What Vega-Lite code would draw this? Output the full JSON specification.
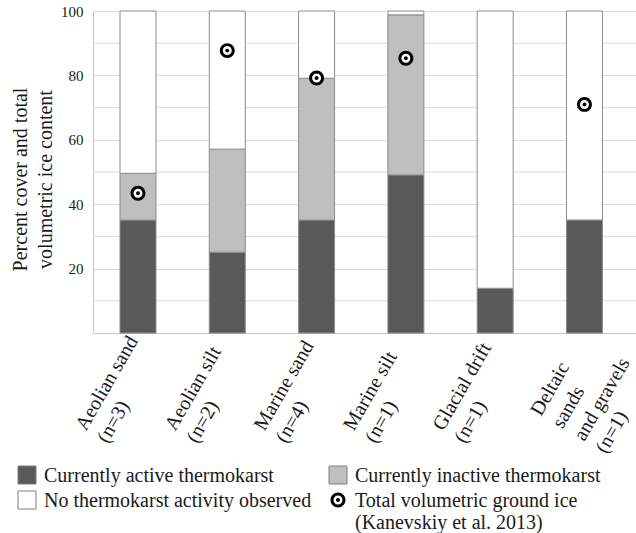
{
  "$schema": "https://vega.github.io/schema/vega-lite/v6.json",
  "width": 543,
  "height": 322,
  "autosize": {"type": "none"},
  "padding": {"left": 93, "top": 11, "right": 0, "bottom": 200},
  "background": "white",
  "config": {
    "view": {"stroke": null},
    "font": "Liberation Serif",
    "axis": {"labelFont": "Liberation Serif", "titleFont": "Liberation Serif"},
    "legend": {"labelFont": "Liberation Serif", "titleFont": "Liberation Serif"}
  },
  "datasets": {
    "cover": [
      {"material": "Aeolian sand|(n=3)", "cover": "Currently active thermokarst", "ord": 1, "value": 35.1},
      {"material": "Aeolian sand|(n=3)", "cover": "Currently inactive thermokarst", "ord": 2, "value": 14.5},
      {"material": "Aeolian sand|(n=3)", "cover": "No thermokarst activity observed", "ord": 3, "value": 50.4},
      {"material": "Aeolian silt|(n=2)", "cover": "Currently active thermokarst", "ord": 1, "value": 25.1},
      {"material": "Aeolian silt|(n=2)", "cover": "Currently inactive thermokarst", "ord": 2, "value": 32.0},
      {"material": "Aeolian silt|(n=2)", "cover": "No thermokarst activity observed", "ord": 3, "value": 42.9},
      {"material": "Marine sand|(n=4)", "cover": "Currently active thermokarst", "ord": 1, "value": 35.1},
      {"material": "Marine sand|(n=4)", "cover": "Currently inactive thermokarst", "ord": 2, "value": 44.0},
      {"material": "Marine sand|(n=4)", "cover": "No thermokarst activity observed", "ord": 3, "value": 20.9},
      {"material": "Marine silt|(n=1)", "cover": "Currently active thermokarst", "ord": 1, "value": 49.1},
      {"material": "Marine silt|(n=1)", "cover": "Currently inactive thermokarst", "ord": 2, "value": 49.7},
      {"material": "Marine silt|(n=1)", "cover": "No thermokarst activity observed", "ord": 3, "value": 1.2},
      {"material": "Glacial drift|(n=1)", "cover": "Currently active thermokarst", "ord": 1, "value": 13.9},
      {"material": "Glacial drift|(n=1)", "cover": "No thermokarst activity observed", "ord": 3, "value": 86.1},
      {"material": "Deltaic|sands|and gravels|(n=1)", "cover": "Currently active thermokarst", "ord": 1, "value": 35.1},
      {"material": "Deltaic|sands|and gravels|(n=1)", "cover": "No thermokarst activity observed", "ord": 3, "value": 64.9}
    ],
    "ice": [
      {"material": "Aeolian sand|(n=3)", "value": 43.4},
      {"material": "Aeolian silt|(n=2)", "value": 87.7},
      {"material": "Marine sand|(n=4)", "value": 79.2},
      {"material": "Marine silt|(n=1)", "value": 85.3},
      {"material": "Deltaic|sands|and gravels|(n=1)", "value": 71.0}
    ],
    "minorgrid": [
      {"value": 10}, {"value": 30}, {"value": 50}, {"value": 70}, {"value": 90}
    ]
  },
  "layer": [
    {
      "data": {"name": "minorgrid"},
      "mark": {"type": "rule", "color": "#dcdcdc", "strokeWidth": 1},
      "encoding": {
        "y": {
          "field": "value",
          "type": "quantitative",
          "scale": {"domain": [0, 100], "nice": false},
          "axis": {
            "title": ["Percent cover and total", "volumetric ice content"],
            "titleFont": "Liberation Serif",
            "titleFontSize": 20,
            "titleFontWeight": "normal",
            "titleColor": "#1a1a1a",
            "titleLineHeight": 25,
            "titleAngle": 270,
            "titleBaseline": "alphabetic",
            "titleAlign": "center",
            "titleX": -67,
            "titleY": 168,
            "values": [20, 40, 60, 80, 100],
            "labelFont": "Liberation Serif",
            "labelFontSize": 15,
            "labelColor": "#1a1a1a",
            "labelPadding": 10,
            "labelOverlap": false,
            "labelFlush": false,
            "ticks": false,
            "domainColor": "#c4c4c4",
            "gridColor": "#dcdcdc",
            "gridWidth": 1
          }
        }
      }
    },
    {
      "data": {"name": "cover"},
      "mark": {"type": "bar", "stroke": "#8c8c8c", "strokeWidth": 1},
      "encoding": {
        "x": {
          "field": "material",
          "type": "nominal",
          "sort": null,
          "scale": {"paddingInner": 0.597, "paddingOuter": 0.339, "align": 0.446},
          "axis": {
            "title": null,
            "labelAngle": -60,
            "labelAlign": "left",
            "labelBaseline": "alphabetic",
            "labelFont": "Liberation Serif",
            "labelFontSize": 20,
            "labelLineHeight": 25,
            "labelColor": "#1a1a1a",
            "labelPadding": 0,
            "labelOverlap": false,
            "labelBound": false,
            "labelFlush": false,
            "labelLimit": 0,
            "labelExpr": "split(datum.label, '|')",
            "ticks": false,
            "grid": false,
            "domainColor": "#c4c4c4",
            "encoding": {
              "labels": {
                "dx": {"value": {"expr": "indexof(datum.value, 'Deltaic') == 0 ? -94 : -111"}},
                "dy": {"value": 4}
              }
            }
          }
        },
        "y": {
          "field": "value",
          "type": "quantitative",
          "stack": "zero",
          "scale": {"domain": [0, 100], "nice": false},
          "axis": {
            "title": ["Percent cover and total", "volumetric ice content"],
            "titleFont": "Liberation Serif",
            "titleFontSize": 20,
            "titleFontWeight": "normal",
            "titleColor": "#1a1a1a",
            "titleLineHeight": 25,
            "titleAngle": 270,
            "titleBaseline": "alphabetic",
            "titleAlign": "center",
            "titleX": -67,
            "titleY": 168,
            "values": [20, 40, 60, 80, 100],
            "labelFont": "Liberation Serif",
            "labelFontSize": 15,
            "labelColor": "#1a1a1a",
            "labelPadding": 10,
            "labelOverlap": false,
            "labelFlush": false,
            "ticks": false,
            "domainColor": "#c4c4c4",
            "gridColor": "#dcdcdc",
            "gridWidth": 1
          }
        },
        "color": {
          "field": "cover",
          "type": "nominal",
          "scale": {
            "domain": ["Currently active thermokarst", "Currently inactive thermokarst", "No thermokarst activity observed", "Total volumetric ground ice"],
            "range": ["#595959", "#bfbfbf", "#ffffff", "#000000"]
          },
          "legend": {
            "title": null,
            "orient": "none",
            "legendX": -76,
            "legendY": 454,
            "direction": "horizontal",
            "columns": 2,
            "columnPadding": 15,
            "rowPadding": 3,
            "symbolType": "square",
            "symbolSize": 324,
            "symbolStrokeWidth": 1,
            "symbolStrokeColor": "#7f7f7f",
            "symbolOpacity": 1,
            "labelFont": "Liberation Serif",
            "labelFontSize": 20,
            "labelColor": "#1a1a1a",
            "labelOffset": 7,
            "labelLimit": 0,
            "labelBaseline": "alphabetic",
            "labelLineHeight": 23,
            "labelExpr": "datum.value == 'Total volumetric ground ice' ? ['Total volumetric ground ice', '(Kanevskiy et al. 2013)'] : datum.label",
            "encoding": {
              "symbols": {
                "shape": {"value": {"expr": "datum.value == 'Total volumetric ground ice' ? 'M-0.83,0A0.83,0.83,0,1,1,0.83,0A0.83,0.83,0,1,1,-0.83,0Z M-0.5,0A0.5,0.5,0,1,0,0.5,0A0.5,0.5,0,1,0,-0.5,0Z M-0.22,0A0.22,0.22,0,1,1,0.22,0A0.22,0.22,0,1,1,-0.22,0Z' : 'square'"}},
                "stroke": {"value": {"expr": "datum.value == 'Total volumetric ground ice' ? 'transparent' : '#7f7f7f'"}}
              },
              "labels": {
                "dy": {"value": 7}
              }
            }
          }
        },
        "order": {"field": "ord", "type": "quantitative"}
      }
    },
    {
      "data": {"name": "ice"},
      "mark": {"type": "point", "shape": "circle", "filled": true, "color": "#ffffff", "size": 120, "opacity": 1},
      "encoding": {
        "x": {"field": "material", "type": "nominal", "sort": null},
        "y": {"field": "value", "type": "quantitative"}
      }
    },
    {
      "data": {"name": "ice"},
      "mark": {"type": "point", "shape": "M-0.83,0A0.83,0.83,0,1,1,0.83,0A0.83,0.83,0,1,1,-0.83,0Z M-0.5,0A0.5,0.5,0,1,0,0.5,0A0.5,0.5,0,1,0,-0.5,0Z M-0.22,0A0.22,0.22,0,1,1,0.22,0A0.22,0.22,0,1,1,-0.22,0Z", "filled": true, "color": "#000000", "size": 324, "opacity": 1},
      "encoding": {
        "x": {"field": "material", "type": "nominal", "sort": null},
        "y": {"field": "value", "type": "quantitative"}
      }
    }
  ]
}
